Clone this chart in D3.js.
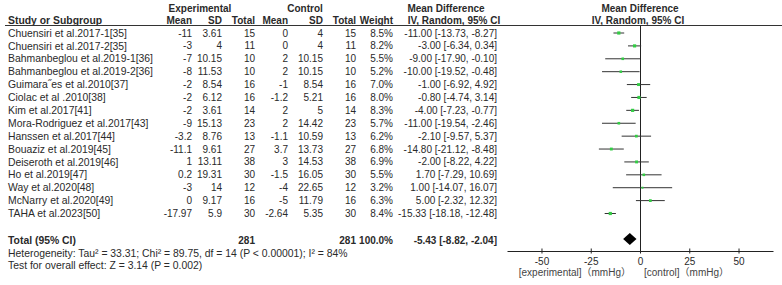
<!DOCTYPE html>
<html><head><meta charset="utf-8">
<script src="https://cdn.jsdelivr.net/npm/d3@7"></script>
<style>
body{margin:0;background:#fff;}
svg text{font-family:"Liberation Sans",Arial,sans-serif;font-size:10px;fill:#2a2a2a;}
svg text.w{font-size:10.4px;}
.b{font-weight:bold;}
</style></head><body>
<script>
const studies = ["Chuensiri et al.2017-1[35]","Chuensiri et al.2017-2[35]","Bahmanbeglou et al.2019-1[36]","Bahmanbeglou et al.2019-2[36]","Guimara\u02DDes et al.2010[37]","Ciolac et al .2010[38]","Kim et al.2017[41]","Mora-Rodriguez et al.2017[43]","Hanssen et al.2017[44]","Bouaziz et al.2019[45]","Deiseroth et al.2019[46]","Ho et al.2019[47]","Way et al.2020[48]","McNarry et al.2020[49]","TAHA et al.2023[50]"];
const expMean = [-11,-3,-7,-8,-2,-2,-2,-9,-3.2,-11.1,1,0.2,-3,0,-17.97];
const expSD = [3.61,4,10.15,11.53,8.54,6.12,3.61,15.13,8.76,9.61,13.11,19.31,14,9.17,5.9];
const expN = [15,11,10,10,16,16,14,23,13,27,38,30,12,16,30];
const ctlMean = [0,0,2,2,-1,-1.2,2,2,-1.1,3.7,3,-1.5,-4,-5,-2.64];
const ctlSD = [4,4,10.15,10.15,8.54,5.21,5,14.42,10.59,13.73,14.53,16.05,22.65,11.79,5.35];
const ctlN = [15,11,10,10,16,16,14,23,13,27,38,30,12,16,30];
const weight = [8.5,8.2,5.5,5.2,7.0,8.0,8.3,5.7,6.2,6.8,6.9,5.5,3.2,6.3,8.4];
const md = [-11.00,-3.00,-9.00,-10.00,-1.00,-0.80,-4.00,-11.00,-2.10,-14.80,-2.00,1.70,1.00,5.00,-15.33];
const ciLo = [-13.73,-6.34,-17.90,-19.52,-6.92,-4.74,-7.23,-19.54,-9.57,-21.12,-8.22,-7.29,-14.07,-2.32,-18.18];
const ciHi = [-8.27,0.34,-0.10,-0.48,4.92,3.14,-0.77,-2.46,5.37,-8.48,4.22,10.69,16.07,12.32,-12.48];
const total = {expN:281, ctlN:281, weight:"100.0%", md:-5.43, lo:-8.82, hi:-2.04};
const axisTicks = [-50,-25,0,25,50];
const hetText = "Heterogeneity: Tau\u00B2 = 33.31; Chi\u00B2 = 89.75, df = 14 (P < 0.00001); I\u00B2 = 84%";
const testText = "Test for overall effect: Z = 3.14 (P = 0.002)";

const W=782,H=285;
const svg=d3.select("body").append("svg").attr("width",W).attr("height",H);
const x=d3.scaleLinear().domain([-67.5,67.5]).range([507.5,773.5]);
const rowY=d3.scaleLinear().domain([0,14]).range([33,213.5]);
const f2=d=>d.toFixed(2);

function t(xp,yp,s,anchor,cls){
  return svg.append("text").attr("x",xp).attr("y",yp).attr("dy","0.35em")
   .attr("text-anchor",anchor||"start").attr("class",cls||null).text(s);
}
// headers
t(200,8,"Experimental","middle","b");
t(305,8,"Control","middle","b");
t(446,8,"Mean Difference","middle","b");
t(640,8,"Mean Difference","middle","b");
t(8,20,"Study or Subgroup","start","b w");
t(192,20,"Mean","end","b");t(222,20,"SD","end","b");t(255,20,"Total","end","b");
t(288,20,"Mean","end","b");t(323,20,"SD","end","b");t(356,20,"Total","end","b");
t(393,20,"Weight","end","b");
t(454,20,"IV, Random, 95% CI","middle","b");
t(638,20,"IV, Random, 95% CI","middle","b");
svg.append("line").attr("x1",5).attr("x2",782).attr("y1",25.5).attr("y2",25.5).attr("stroke","#333").attr("stroke-width",1);

// rows
studies.forEach((s,i)=>{
  const y=rowY(i);
  t(8,y,s,"start","w");
  t(192,y,String(expMean[i]),"end");
  t(222,y,String(expSD[i]),"end");
  t(255,y,String(expN[i]),"end");
  t(288,y,String(ctlMean[i]),"end");
  t(323,y,String(ctlSD[i]),"end");
  t(356,y,String(ctlN[i]),"end");
  t(393,y,weight[i].toFixed(1)+"%","end");
  t(497,y,f2(md[i])+" ["+f2(ciLo[i])+", "+f2(ciHi[i])+"]","end");
});

// zero line
const axisY=251.5;
svg.append("line").attr("x1",x(0)).attr("x2",x(0)).attr("y1",25.5).attr("y2",axisY).attr("stroke","#222");

// CI lines and squares
const g=svg.append("g");
g.selectAll("line.ci").data(studies).join("line").attr("class","ci")
 .attr("x1",(d,i)=>x(ciLo[i])).attr("x2",(d,i)=>x(ciHi[i]))
 .attr("y1",(d,i)=>rowY(i)).attr("y2",(d,i)=>rowY(i)).attr("stroke","#333").attr("stroke-width",1);
g.selectAll("rect.sq").data(studies).join("rect").attr("class","sq")
 .attr("x",(d,i)=>x(md[i])-Math.sqrt(weight[i])*0.55)
 .attr("y",(d,i)=>rowY(i)-Math.sqrt(weight[i])*0.55)
 .attr("width",(d,i)=>Math.sqrt(weight[i])*1.1)
 .attr("height",(d,i)=>Math.sqrt(weight[i])*1.1)
 .attr("fill","#33cc44");

// total
const ty=240;
t(8,ty,"Total (95% CI)","start","b w");
t(255,ty,String(total.expN),"end","b");
t(356,ty,String(total.ctlN),"end","b");
t(393,ty,total.weight,"end","b");
t(497,ty,f2(total.md)+" ["+f2(total.lo)+", "+f2(total.hi)+"]","end","b");
svg.append("path").attr("d",`M${x(total.lo)},${ty-1} L${x(total.md)},${ty-7} L${x(total.hi)},${ty-1} L${x(total.md)},${ty+5} Z`).attr("fill","#000");
t(8,253,hetText,"start","w");
t(8,265,testText,"start","w");

// axis
svg.append("line").attr("x1",x(-67.5)).attr("x2",x(67.5)).attr("y1",axisY).attr("y2",axisY).attr("stroke","#222");
axisTicks.forEach(v=>{
  svg.append("line").attr("x1",x(v)).attr("x2",x(v)).attr("y1",axisY-3).attr("y2",axisY+2).attr("stroke","#222");
  t(x(v),261.5,String(v),"middle");
});
t(631,272,"[experimental]\uFF08mmHg\uFF09","end").style("font-family","'Liberation Sans','Noto Sans CJK SC',sans-serif").style("fill","#444");
t(644,272,"[control]\uFF08mmHg\uFF09","start").style("font-family","'Liberation Sans','Noto Sans CJK SC',sans-serif").style("fill","#444");
</script></body></html>
